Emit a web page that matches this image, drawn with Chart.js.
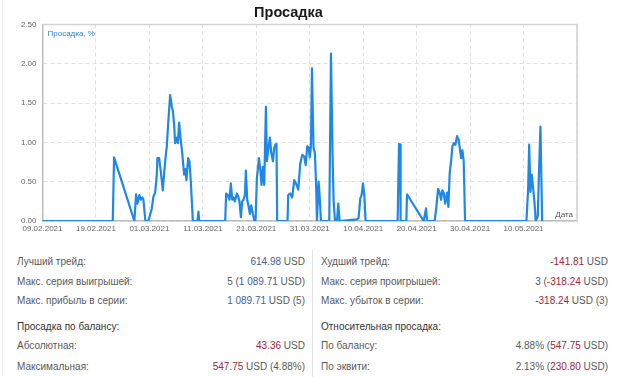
<!DOCTYPE html>
<html>
<head>
<meta charset="utf-8">
<script src="https://cdn.jsdelivr.net/npm/chart.js@4.4.1/dist/chart.umd.min.js"></script>
<style>
  body { margin: 0; background: #fff; font-family: "Liberation Sans", Arial, sans-serif; }
  #page { position: relative; width: 620px; height: 377px; overflow: hidden; }
  #chartBox { position: absolute; left: 0; top: 0; width: 620px; height: 240px; }
  #edge { position: absolute; left: 2px; top: 0; width: 1px; height: 377px; background: #efefef; }
  .col { position: absolute; top: 252px; font-size: 10px; color: #5a5a5a; }
  #colL { left: 17px; width: 288px; }
  #colR { left: 312px; width: 287px; padding-left: 8px; border-left: 1px solid #e2e2e2; height: 125px; top: 250px; padding-top: 2px; }
  .row { height: 19.5px; line-height: 19.5px; display: flex; justify-content: space-between; white-space: nowrap; }
  .row.head { margin-top: 6px; color: #333; }
  .row.head + .row { height: 20.5px; }
  .pos { color: #3f5f95; }
  .neg { color: #a3243b; }
</style>
</head>
<body>
<div id="page">
  <div id="edge"></div>
  <div id="chartBox"><canvas id="dd"></canvas></div>

  <div class="col" id="colL">
    <div class="row"><span>Лучший трейд:</span><span><span class="pos">614.98</span> USD</span></div>
    <div class="row"><span>Макс. серия выигрышей:</span><span>5 (<span class="pos">1 089.71</span> USD)</span></div>
    <div class="row"><span>Макс. прибыль в серии:</span><span><span class="pos">1 089.71</span> USD (5)</span></div>
    <div class="row head"><span>Просадка по балансу:</span><span></span></div>
    <div class="row"><span>Абсолютная:</span><span><span class="neg">43.36</span> USD</span></div>
    <div class="row"><span>Максимальная:</span><span><span class="neg">547.75</span> USD (4.88%)</span></div>
  </div>

  <div class="col" id="colR">
    <div class="row"><span>Худший трейд:</span><span><span class="neg">-141.81</span> USD</span></div>
    <div class="row"><span>Макс. серия проигрышей:</span><span>3 (<span class="neg">-318.24</span> USD)</span></div>
    <div class="row"><span>Макс. убыток в серии:</span><span><span class="neg">-318.24</span> USD (3)</span></div>
    <div class="row head"><span>Относительная просадка:</span><span></span></div>
    <div class="row"><span>По балансу:</span><span>4.88% (<span class="neg">547.75</span> USD)</span></div>
    <div class="row"><span>По эквити:</span><span>2.13% (<span class="neg">230.80</span> USD)</span></div>
  </div>
</div>

<script>
// days since 09.02.2021
const ddDays = [
  0, 13.15, 13.39, 17.19, 17.51, 17.75, 18.13, 18.39, 18.69, 18.88, 19.25, 19.81,
  20.45, 20.75, 21.07, 21.39, 21.5, 21.82, 22.13, 22.51, 22.75, 23.07, 23.26, 23.5, 23.88, 24.19, 24.38, 24.63, 24.81,
  25.13, 25.32, 25.56, 25.81, 26.12, 26.31, 26.5, 26.74, 26.93, 27.25, 27.49, 27.75, 28.13, 28.99, 29.18, 29.31,
  34.18, 34.36, 34.68, 34.98, 35.24, 35.49, 35.73, 35.99, 36.37, 36.61, 36.85, 37.12, 37.36, 37.6, 37.87, 38.05, 38.3, 38.54, 38.8, 39.04, 39.36, 39.66, 39.85,
  40.11, 40.49, 40.73, 40.97, 41.24, 41.48, 41.8, 41.99, 42.28, 42.55, 42.79, 43.11, 43.35, 43.6, 43.78, 43.91,
  45.84, 45.97, 46.35, 46.72, 47.1, 47.47, 47.85, 48.22, 48.6, 48.97, 49.25, 49.53, 49.81, 50.0, 50.22, 50.41, 50.71, 50.97, 51.22, 51.35, 51.65, 51.84, 52.1,
  53.65, 53.97, 54.27, 54.46, 54.72, 55.09, 55.34, 55.58, 58.84, 59.14, 59.46, 59.7, 59.96, 60.21, 60.45,
  66.44, 66.7, 66.89, 67.0, 68.07, 68.2, 71.31, 71.76, 71.95,
  73.37, 73.69, 74.01, 74.31, 74.57, 74.81, 75.06, 75.32, 75.69, 75.94, 76.18, 76.44, 76.69, 76.93, 77.25, 77.57, 77.87, 78.05, 78.31, 78.56, 78.8, 79.06,
  90.54, 90.86, 91.05, 91.29, 91.54, 91.8, 92.04, 92.28, 92.66, 92.92, 93.16, 93.48
];
// drawdown, %
const ddValues = [
  0, 0, 0.81, 0, 0.34, 0.22, 0.33, 0.27, 0.30, 0.27, 0, 0,
  0.16, 0.31, 0.36, 0.59, 0.80, 0.80, 0.63, 0.39, 0.60, 0.84, 0.95, 1.23, 1.60, 1.46, 1.40, 1.23, 0.99,
  1.06, 0.99, 1.25, 1.06, 0.88, 0.73, 0.59, 0.66, 0.52, 0.80, 0.76, 0.50, 0, 0, 0.12, 0,
  0, 0.35, 0.33, 0.27, 0.48, 0.27, 0.30, 0.25, 0.35, 0.31, 0.25, 0.05, 0.25, 0.27, 0.33, 0.64, 0.27, 0.19, 0.09, 0.20, 0.09, 0, 0,
  0.54, 0.80, 0.67, 0.46, 0.69, 0.46, 1.45, 0.76, 0.93, 1.06, 0.87, 0.76, 0.93, 0.97, 0.98, 0,
  0, 0.33, 0.35, 0.30, 0.52, 0.47, 0.40, 0.73, 0.84, 0.82, 0.71, 0.95, 0.93, 0.81, 0.95, 1.94, 0.93, 0.86, 0.39, 0, 0.50, 0.33, 0,
  0, 2.13, 0.84, 0.26, 0, 0, 0.22, 0, 0.02, 0.04, 0.29, 0.33, 0.48, 0.33, 0,
  0, 0.98, 0.97, 0, 0, 0.34, 0, 0.16, 0,
  0, 0.18, 0.41, 0.36, 0.27, 0.39, 0.36, 0.22, 0.36, 0.18, 0.61, 0.76, 0.95, 0.99, 0.97, 1.08, 1.03, 0.94, 0.80, 0.90, 0.76, 0,
  0, 0.41, 0.97, 0.37, 0.59, 0.41, 0.24, 0, 0.06, 0.69, 1.20, 0
];

const startDate = new Date(2021, 1, 9);
const dayMax = 100;
const yTicks = [0, 0.5, 1, 1.5, 2, 2.5];

function fmtDate(d) {
  const dt = new Date(startDate.getFullYear(), startDate.getMonth(), startDate.getDate() + d);
  const dd = String(dt.getDate()).padStart(2, '0');
  const mm = String(dt.getMonth() + 1).padStart(2, '0');
  return dd + '.' + mm + '.' + dt.getFullYear();
}

const tickFont = { family: '"Liberation Sans", Arial, sans-serif', size: 8 };

// frame round the plot + the two small captions inside it
const frame = {
  id: 'frame',
  beforeDatasetsDraw(chart) {
    const { ctx, chartArea: a } = chart;
    ctx.save();
    ctx.strokeStyle = '#d2d2d2';
    ctx.lineWidth = 1.5;
    ctx.beginPath();
    ctx.moveTo(a.left, a.top);
    ctx.lineTo(a.right, a.top);
    ctx.lineTo(a.right, a.bottom);
    ctx.stroke();
    ctx.font = '8px "Liberation Sans", Arial, sans-serif';
    ctx.textBaseline = 'middle';
    ctx.fillStyle = '#2f7fd0';
    ctx.textAlign = 'left';
    ctx.fillText('Просадка, %', a.left + 5, a.top + 9);
    ctx.fillStyle = '#555';
    ctx.textAlign = 'right';
    ctx.fillText('Дата', a.right - 4, a.bottom - 6);
    ctx.restore();
  }
};

new Chart(document.getElementById('dd'), {
  type: 'line',
  data: {
    datasets: [{
      data: ddDays.map((d, i) => ({ x: d, y: ddValues[i] })),
      borderColor: '#1f88e6',
      borderWidth: 2.2,
      borderJoinStyle: 'round',
      pointRadius: 0,
      tension: 0,
      fill: false
    }]
  },
  options: {
    responsive: true,
    maintainAspectRatio: false,
    animation: false,
    layout: { padding: { left: 0, right: 43, top: 2, bottom: 0 } },
    plugins: {
      legend: { display: false },
      tooltip: { enabled: false },
      title: {
        display: true,
        text: 'Просадка',
        color: '#1a1a1a',
        font: { family: '"Liberation Sans", Arial, sans-serif', size: 14.5, weight: 'bold' },
        padding: { top: 2, bottom: 3 }
      }
    },
    scales: {
      x: {
        type: 'linear',
        min: 0,
        max: dayMax,
        afterFit(s) { s.height = 19; },
        afterBuildTicks(s) {
          s.ticks = [];
          for (let d = 0; d <= dayMax; d += 10) s.ticks.push({ value: d });
        },
        ticks: {
          color: '#666',
          font: tickFont,
          padding: 3,
          maxRotation: 0,
          autoSkip: false,
          callback: v => (v >= dayMax ? '' : fmtDate(v))
        },
        grid: { color: '#e0e0e0', drawTicks: false },
        border: { color: '#bdbdbd', width: 1.5, dash: [4, 3] }
      },
      y: {
        min: 0,
        max: 2.5,
        afterFit(s) { s.width = 42.5; },
        afterBuildTicks(s) { s.ticks = yTicks.map(v => ({ value: v })); },
        ticks: {
          color: '#666',
          font: tickFont,
          padding: 6,
          callback: v => v.toFixed(2)
        },
        grid: { color: '#e0e0e0', drawTicks: false },
        border: { color: '#bdbdbd', width: 1.5, dash: [4, 3] }
      }
    }
  },
  plugins: [frame]
});
</script>
</body>
</html>
